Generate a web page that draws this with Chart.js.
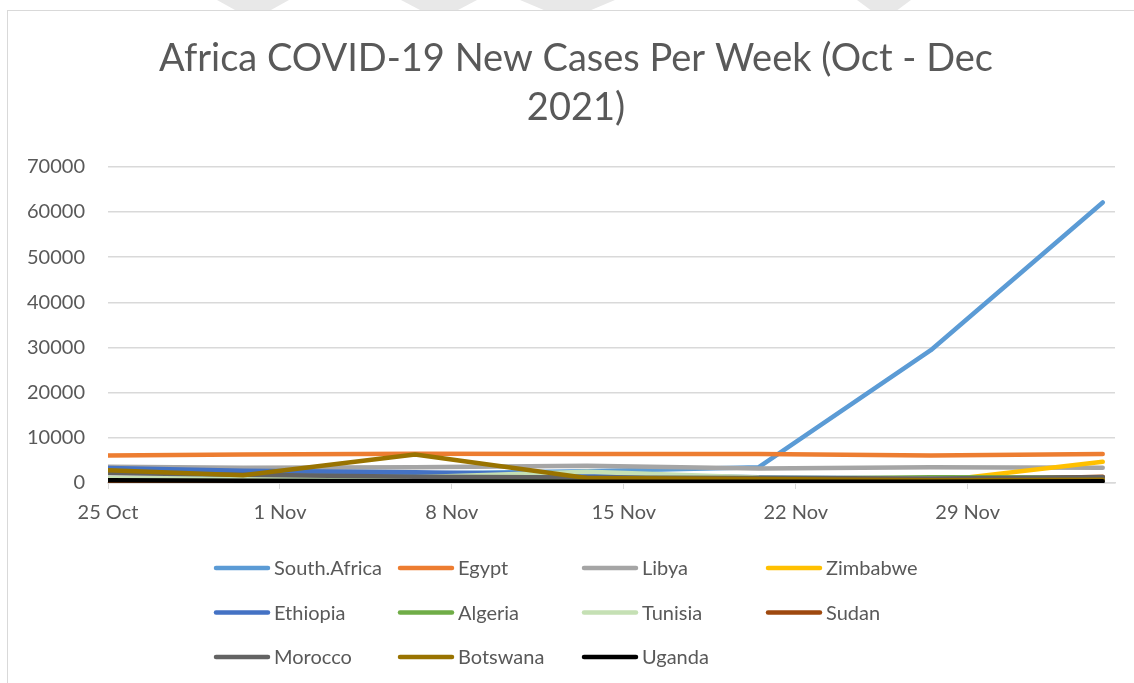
<!DOCTYPE html>
<html>
<head>
<meta charset="utf-8">
<title>Africa COVID-19 New Cases Per Week</title>
<script src="https://cdn.jsdelivr.net/npm/chart.js@4"></script>
<style>
  html, body { margin: 0; padding: 0; background: #fff; overflow: hidden; }
  #frame { position: absolute; left: 7px; top: 10px; width: 1300px; height: 900px; border: 1px solid #d9d9d9; }
  .mark { position: absolute; top: 0; height: 10px; background: #e8e8e8;
          clip-path: polygon(0 0, 100% 0, 75% 100%, 25% 100%); }
  #wrap { position: absolute; left: 0; top: 0; width: 1134px; height: 683px; }
</style>
</head>
<body>
<div class="mark" style="left:217px;width:72px"></div>
<div class="mark" style="left:401px;width:76px"></div>
<div class="mark" style="left:520px;width:95px"></div>
<div class="mark" style="left:857px;width:54px"></div>
<div id="frame"></div>
<div id="wrap"><canvas id="chart"></canvas></div>
<script>
// Week points, in days counted from 25 Oct 2021
const weekDays = [0, 5.5, 12.5, 19.5, 26.5, 33.5, 40.5];
const tickLabels = ['25 Oct', '1 Nov', '8 Nov', '15 Nov', '22 Nov', '29 Nov'];

// New cases per week
const southAfrica = [2600, 2300, 2100, 2600, 3500, 29400, 62100];
const egypt       = [6100, 6300, 6500, 6400, 6400, 6100, 6400];
const libya       = [3600, 3400, 3500, 3800, 3200, 3500, 3400];
const zimbabwe    = [100, 100, 100, 100, 100, 300, 4700];
const ethiopia    = [3300, 2700, 2400, 1800, 1300, 1000, 1000];
const algeria     = [500, 600, 600, 700, 900, 1300, 1200];
const tunisia     = [1100, 1100, 1300, 2500, 1200, 1000, 1100];
const sudan       = [300, 100, 0, 200, 300, 500, 1400];
const morocco     = [2200, 1800, 1400, 1200, 1100, 1000, 1300];
const botswana    = [2800, 1700, 6300, 1100, 900, 600, 700];
const uganda      = [600, 500, 400, 300, 300, 300, 400];

const countries = ['South.Africa', 'Egypt', 'Libya', 'Zimbabwe', 'Ethiopia', 'Algeria',
                   'Tunisia', 'Sudan', 'Morocco', 'Botswana', 'Uganda'];
const seriesValues = [southAfrica, egypt, libya, zimbabwe, ethiopia, algeria,
                      tunisia, sudan, morocco, botswana, uganda];
const colors = ['#5b9bd5', '#ed7d31', '#a5a5a5', '#ffc000', '#4472c4', '#70ad47',
                '#c5e0b4', '#9e480e', '#636363', '#997300', '#000000'];

const textGray = '#595959';
const gridGray = '#d9d9d9';
Chart.defaults.font.family = 'Lato';
Chart.defaults.color = textGray;

// Legend drawn as a 4 column grid below the plot
const gridLegend = {
  id: 'gridLegend',
  afterDraw(chart) {
    const ctx = chart.ctx;
    const x0 = 216, colW = 184, y0 = 568, rowH = 44.5, lineLen = 52;
    ctx.save();
    ctx.font = '20px Lato';
    ctx.textBaseline = 'middle';
    ctx.textAlign = 'left';
    chart.data.datasets.forEach((ds, i) => {
      const x = x0 + (i % 4) * colW;
      const y = y0 + Math.floor(i / 4) * rowH;
      ctx.strokeStyle = ds.borderColor;
      ctx.lineWidth = ds.borderWidth;
      ctx.lineCap = 'round';
      ctx.beginPath();
      ctx.moveTo(x, y);
      ctx.lineTo(x + lineLen, y);
      ctx.stroke();
      ctx.fillStyle = textGray;
      ctx.fillText(ds.label, x + lineLen + 6, y + 1);
    });
    ctx.restore();
  }
};

// Title is centred on the whole chart box, which is wider than the plot
const titleShift = {
  id: 'titleShift',
  afterLayout(chart) {
    const t = chart.titleBlock;
    t.left = 18;
    t.right = 1134;
    t.width = t.right - t.left;
  }
};

const datasets = countries.map((name, i) => ({
  label: name,
  data: weekDays.map((d, j) => ({ x: d, y: seriesValues[i][j] })),
  borderColor: colors[i],
  backgroundColor: colors[i],
  borderWidth: 4.5,
  borderCapStyle: 'round',
  borderJoinStyle: 'round',
  pointRadius: 0,
  tension: 0,
  order: countries.length - i
}));

new Chart(document.getElementById('chart'), {
  type: 'line',
  data: { datasets },
  plugins: [gridLegend, titleShift],
  options: {
    responsive: true,
    maintainAspectRatio: false,
    animation: false,
    layout: { padding: { left: 0, right: 19, top: 34, bottom: 160 } },
    plugins: {
      legend: { display: false },
      tooltip: { enabled: false },
      title: {
        display: true,
        text: ['Africa COVID-19 New Cases Per Week (Oct - Dec', '2021)'],
        color: textGray,
        font: { size: 38, weight: 'normal', lineHeight: 1.3 },
        padding: { top: 0, bottom: 34 }
      }
    },
    scales: {
      x: {
        type: 'linear',
        min: 0,
        max: 41,
        afterFit(scale) { scale.height = 40; },
        grid: { drawOnChartArea: false, drawTicks: true, tickLength: 6, color: gridGray },
        border: { display: true, color: gridGray, width: 1.5 },
        ticks: {
          stepSize: 7,
          includeBounds: false,
          autoSkip: false,
          maxRotation: 0,
          padding: 12,
          color: textGray,
          font: { size: 20 },
          callback: v => tickLabels[Math.round(v / 7)]
        }
      },
      y: {
        min: 0,
        max: 70000,
        afterFit(scale) { scale.width = 108; },
        grid: { color: gridGray, lineWidth: 1.5, drawTicks: false },
        border: { display: false },
        ticks: { stepSize: 10000, padding: 23, color: textGray, font: { size: 20 },
                 callback: v => String(v) }
      }
    }
  }
});
</script>
</body>
</html>
